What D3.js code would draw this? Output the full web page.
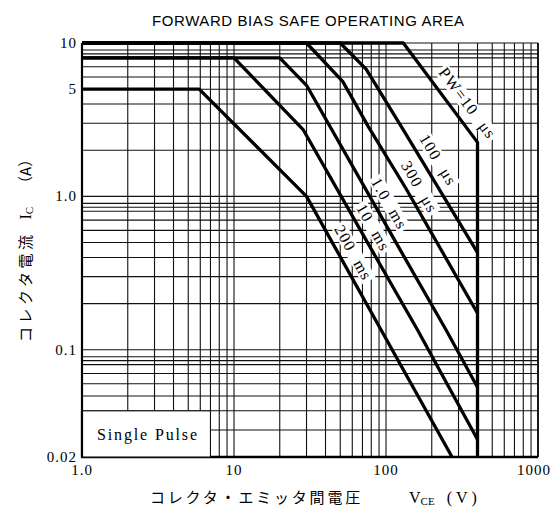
<!DOCTYPE html>
<html><head><meta charset="utf-8">
<script src="https://cdn.jsdelivr.net/npm/d3@7/dist/d3.min.js"></script>
<style>body{margin:0;background:#fff}svg{display:block}</style>
</head><body><svg id="c" width="558" height="510"></svg>
<script>
// ---- data ----
const titleText = "FORWARD BIAS SAFE OPERATING AREA";
const xTickValues = [1, 10, 100, 1000];
const xTickLabels = ["1.0", "10", "100", "1000"];
const yTickValues = [10, 5, 1, 0.1, 0.02];
const yTickLabels = ["10", "5", "1.0", "0.1", "0.02"];
const yExtraGrid = [8.5, 0.85, 0.085];
const seriesNames = ["PW=10 μs", "100 μs", "300 μs", "1.0 ms", "10 ms", "200 ms"];
const pw10us  = [[1,10],[130,10],[400,2.25],[400,0.02]];
const pw100us = [[1,10],[50,10],[74,6.75],[130,2.71],[400,0.43]];
const pw300us = [[1,10],[30,10],[52,5.6],[76.5,2.85],[135,1.13],[400,0.173]];
const pw1ms   = [[1,8],[20,8],[30,5.3],[124,0.448],[248,0.135],[400,0.057]];
const pw10ms  = [[1,8],[10,8],[28.6,2.71],[80.5,0.448],[161,0.135],[400,0.026]];
const pw200ms = [[1,5],[5.9,5],[30,1.0],[272,0.02]];
const labelAtV = [285, 183, 141, 88, 70, 51];
const boxNote = "Single Pulse";
const xTitleJa = "コレクタ・エミッタ間電圧", xTitleSym = "V", xTitleSub = "CE", xTitleUnit = "(V)";
const yTitleJa = "コレクタ電流", yTitleSym = "I", yTitleSub = "C", yTitleUnit = "（A）";

const series = [pw10us, pw100us, pw300us, pw1ms, pw10ms, pw200ms];

// ---- chart ----
const svg = d3.select("#c");
const serif = "'Liberation Serif','DejaVu Serif',serif";
const cjk = "'Noto Sans CJK JP',sans-serif";
const x = d3.scaleLog().domain([1, 1000]).range([82, 538]);
const y = d3.scaleLog().domain([0.02, 10]).range([457, 43]);

svg.append("rect").attr("width", 558).attr("height", 510).attr("fill", "#fff");

svg.append("text").attr("x", 308).attr("y", 26).attr("text-anchor", "middle")
  .attr("font-family", "'Liberation Sans',Arial,sans-serif").attr("font-size", 15)
  .attr("textLength", 312).attr("lengthAdjust", "spacing")
  .text(titleText);

const grid = svg.append("g").attr("stroke", "#111").attr("stroke-width", 1.1);
const boxV = 7, boxI = 0.04;
x.ticks().forEach(v => {
  grid.append("line").attr("x1", x(v)).attr("x2", x(v))
    .attr("y1", y(10)).attr("y2", (v > 1 && v < boxV) ? y(boxI) : y(0.02));
});
y.ticks().concat(yExtraGrid).forEach(v => {
  grid.append("line").attr("y1", y(v)).attr("y2", y(v))
    .attr("x1", (v > 0.02 && v < boxI) ? x(boxV) : x(1)).attr("x2", x(1000));
});
// frame
svg.append("line").attr("x1", x(1)).attr("x2", x(1)).attr("y1", y(10)).attr("y2", y(0.02)+1).attr("stroke", "#000").attr("stroke-width", 2.2);
svg.append("line").attr("x1", x(1)-1).attr("x2", x(1000)).attr("y1", y(0.02)).attr("y2", y(0.02)).attr("stroke", "#000").attr("stroke-width", 2.6);
svg.append("line").attr("x1", x(1000)).attr("x2", x(1000)).attr("y1", y(10)).attr("y2", y(0.02)).attr("stroke", "#000").attr("stroke-width", 1.6);

// single pulse box
svg.append("rect").attr("x", x(1)).attr("y", y(boxI)).attr("width", x(boxV) - x(1)).attr("height", y(0.02) - y(boxI))
  .attr("fill", "#fff").attr("stroke", "#111").attr("stroke-width", 1.1);
svg.append("line").attr("x1", x(1)).attr("x2", x(1)).attr("y1", y(boxI)).attr("y2", y(0.02)).attr("stroke", "#000").attr("stroke-width", 2.2);
svg.append("text").attr("x", 97).attr("y", 440).attr("font-family", serif).attr("font-size", 16)
  .attr("textLength", 100).attr("lengthAdjust", "spacing").text(boxNote);

// labels geometry
function pointAt(pts, V) {
  for (let i = 0; i < pts.length - 1; i++) {
    const a = pts[i], b = pts[i+1];
    if (a[0] < b[0] && V >= a[0] && V <= b[0]) {
      const t = (Math.log(V) - Math.log(a[0])) / (Math.log(b[0]) - Math.log(a[0]));
      const I = Math.exp(Math.log(a[1]) + t * (Math.log(b[1]) - Math.log(a[1])));
      const ang = Math.atan2(y(b[1]) - y(a[1]), x(b[0]) - x(a[0]));
      return {px: x(V), py: y(I), ang};
    }
  }
  return null;
}
const labelOffset = [15, 14, 12, 13, 12, 13];
const labG = svg.append("g");
const labels = series.map((s, i) => {
  const p = pointAt(s, labelAtV[i]);
  const nx = Math.sin(p.ang), ny = -Math.cos(p.ang);
  const cx = p.px + nx * labelOffset[i], cy = p.py + ny * labelOffset[i];
  const g = labG.append("g").attr("transform", `translate(${cx},${cy}) rotate(${p.ang * 180 / Math.PI})`);
  return {g, i};
});
const curveG = svg.append("g");
const line = d3.line().x(d => x(d[0])).y(d => y(d[1]));
series.forEach(s => {
  curveG.append("path").attr("d", line(s)).attr("fill", "none").attr("stroke", "#000")
    .attr("stroke-width", 3.3).attr("stroke-linejoin", "round").attr("stroke-linecap", "butt");
});
labels.forEach(({g, i}) => {
  const t = g.append("text").attr("text-anchor", "middle").attr("y", 5)
    .attr("font-family", serif).attr("font-size", 16).attr("letter-spacing", 1.2)
    .attr("word-spacing", 7).text(seriesNames[i]);
  const bb = t.node().getBBox();
  g.insert("rect", "text").attr("x", bb.x - 2).attr("y", bb.y + 1).attr("width", bb.width + 4)
    .attr("height", bb.height - 2).attr("fill", "#fff");
});
labG.raise();

// tick labels
yTickValues.forEach((v, i) => {
  svg.append("text").attr("x", 77).attr("y", y(v) + 5).attr("text-anchor", "end")
    .attr("font-family", serif).attr("font-size", 15).attr("letter-spacing", 1).text(yTickLabels[i]);
});
xTickValues.forEach((v, i) => {
  svg.append("text").attr("x", x(v) - (i === 3 ? 4 : 0)).attr("y", 475).attr("text-anchor", "middle")
    .attr("font-family", serif).attr("font-size", 15).attr("letter-spacing", 1).text(xTickLabels[i]);
});

// x title
const xt = svg.append("text").attr("x", 150).attr("y", 503).attr("font-size", 15);
xt.append("tspan").attr("font-family", cjk).attr("letter-spacing", 2.8).text(xTitleJa);
xt.append("tspan").attr("font-family", serif).attr("font-size", 16).attr("dx", 46).text(xTitleSym);
xt.append("tspan").attr("font-family", serif).attr("font-size", 11).attr("dy", 2).text(xTitleSub);
xt.append("tspan").attr("font-family", serif).attr("font-size", 16).attr("dy", -2).attr("dx", 12).attr("letter-spacing", 4).text(xTitleUnit);

// y title
const yt = svg.append("text").attr("transform", "translate(31,342) rotate(-90)").attr("font-size", 15);
yt.append("tspan").attr("font-family", cjk).attr("letter-spacing", 3.5).text(yTitleJa);
yt.append("tspan").attr("font-family", serif).attr("font-size", 16).attr("dx", 12).text(yTitleSym);
yt.append("tspan").attr("font-family", serif).attr("font-size", 11).attr("dy", 2).text(yTitleSub);
yt.append("tspan").attr("font-family", cjk).attr("font-size", 15).attr("dy", -2).attr("dx", 16).text(yTitleUnit);
</script>
</body></html>
